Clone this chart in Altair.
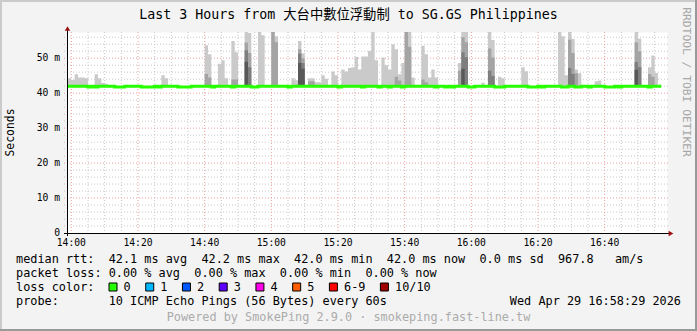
import altair as alt
import pandas as pd

FONT = "DejaVu Sans Mono"
W, H = 600, 201
X0, Y0 = 67, 32  # plot-area origin on the page

# ---------------- data ----------------
x_major = [0, 20, 40, 60, 80, 100, 120, 140, 160]
x_labels = ["14:00", "14:20", "14:40", "15:00", "15:20", "15:40", "16:00", "16:20", "16:40"]
x_minor = [5, 10, 15, 25, 30, 35, 45, 50, 55, 65, 70, 75, 85, 90, 95, 105, 110, 115,
           125, 130, 135, 145, 150, 155, 165, 170, 175]
y_major = [10, 20, 30, 40, 50]
y_label_vals = [0, 10, 20, 30, 40, 50]
y_labels = ["0", "10 m", "20 m", "30 m", "40 m", "50 m"]
y_minor = [2, 4, 6, 8, 12, 14, 16, 18, 22, 24, 26, 28, 32, 34, 36, 38, 42, 44, 46, 48, 52, 54, 56]

# smoke: minutes after 14:00 (sample start) and top of each smoke band (ms)
smoke1_t = [-1, 0, 1, 2, 3, 4, 7, 8, 9, 10, 27, 28, 40, 41, 44, 45, 46, 48, 49, 52, 53,
            56, 57, 60, 61, 66, 67, 68, 69, 71, 72, 73, 74, 75, 76, 78, 79, 81, 82, 83,
            84, 85, 86, 87, 88, 89, 90, 91, 93, 94, 95, 96, 97, 98, 99, 100, 101, 102,
            105, 106, 107, 108, 109, 116, 117, 118, 123, 125, 126, 128, 129, 135, 136,
            146, 147, 148, 149, 150, 151, 152, 157, 158, 169, 170, 173, 174, 175]
smoke1_ms = [44.3, 43.8, 45.4, 44.5, 44.5, 44.3, 45.4, 44.3, 42.9, 42.7, 45.1, 44.3, 53.7,
             51.1, 48.4, 49.4, 44.3, 54.9, 51.7, 57.5, 57.2, 57.5, 56.6, 57.5, 56.3, 44.3,
             43.7, 54.9, 51.4, 44.3, 44.3, 43.1, 43.1, 45.1, 44.1, 46.2, 45.1, 46.8, 46.2,
             47.2, 47.4, 50.4, 46.8, 50.5, 50.5, 52.1, 57.5, 49.4, 50.2, 48.0, 46.8, 54.0,
             52.6, 45.4, 48.6, 57.5, 57.5, 44.5, 53.6, 51.1, 44.5, 46.8, 44.5, 48.6, 57.5,
             57.5, 43.0, 57.5, 55.2, 44.7, 44.3, 47.4, 46.3, 57.5, 56.3, 45.1, 57.5, 55.5,
             46.8, 45.7, 43.4, 43.6, 57.5, 55.6, 47.4, 50.8, 45.8]
smoke2_t = [40, 41, 48, 49, 52, 53, 60, 61, 68, 69, 71, 72, 97, 98, 100, 101, 105, 106,
            116, 117, 118, 125, 126, 149, 150, 151, 169, 170, 173, 174]
smoke2_ms = [45.5, 44.5, 43.9, 43.9, 54.5, 51.5, 57.5, 54.6, 52.6, 50.0, 43.4, 43.4, 44.7,
             43.6, 57.5, 53.3, 43.9, 43.1, 46.4, 56.0, 54.6, 52.8, 50.2, 55.3, 51.5, 45.7,
             54.6, 52.0, 45.5, 44.7]
smoke3_t = [52, 53, 68, 69, 117, 118, 125, 126, 149, 150, 169, 170]
smoke3_ms = [52.3, 47.4, 51.3, 48.6, 51.7, 50.3, 46.4, 44.9, 47.2, 45.5, 48.9, 47.4]
smoke4_t = [52, 68, 69, 117, 169]
smoke4_ms = [49.0, 48.6, 47.0, 47.0, 46.7]
smoke_floor_ms = 41.9

# median rtt line
median_first, median_last = -2, 177
median_ms = 42.0
median_low_ms = 41.8
median_low_t = [5, 7, 13, 14, 15, 21, 22, 23, 24, 26, 32, 33, 34, 35, 42, 48, 54, 55, 65,
                80, 87, 92, 95, 99, 109, 112, 114, 119, 120, 127, 128, 129, 137, 138, 139,
                141, 147, 148, 151, 152, 155, 160, 161, 162, 164, 173]

loss_labels = ["0", "1", "2", "3", "4", "5", "6-9", "10/10"]
loss_colors = ["#26ff00", "#00b8ff", "#0059ff", "#5e00ff", "#ff00ea", "#ff5e00",
               "#ff0000", "#a10000"]

title = "Last 3 Hours from 大台中數位浮動制 to SG.GS Philippines"
row1 = "median rtt:  42.1 ms avg  42.2 ms max  42.0 ms min  42.0 ms now  0.0 ms sd  967.8   am/s"
row2 = "packet loss: 0.00 % avg  0.00 % max  0.00 % min  0.00 % now"
row3 = "loss color:"
row4 = "probe:       10 ICMP Echo Pings (56 Bytes) every 60s"
stamp = "Wed Apr 29 16:58:29 2026"
footer = "Powered by SmokePing 2.9.0 · smokeping.fast-line.tw"
side = "RRDTOOL / TOBI OETIKER"

# ---------------- scales ----------------
xs = alt.Scale(domain=[-1.3, 178.7], nice=False, zero=False)
ys = alt.Scale(domain=[0, 57.5], nice=False, zero=False)
one = pd.DataFrame({"a": [0]})
layers = []

# grid
def hgrid(vals, color):
    return alt.Chart(pd.DataFrame({"v": vals})).mark_rule(
        color=color, strokeDash=[1, 2], strokeWidth=1).encode(
        y=alt.Y("v:Q", scale=ys, axis=None), x=alt.value(-3), x2=alt.value(W + 3))

def vgrid(vals, color, extra=0):
    return alt.Chart(pd.DataFrame({"v": vals})).mark_rule(
        color=color, strokeDash=[1, 2], strokeWidth=1).encode(
        x=alt.X("v:Q", scale=xs, axis=None), y=alt.value(0), y2=alt.value(H + extra))

layers += [hgrid(y_minor, "#c8c8c8"), vgrid(x_minor, "#c8c8c8"),
           hgrid(y_major, "#eea0a0"), vgrid(x_major, "#eea0a0", 3)]

# smoke as stepped areas
all_t = list(range(median_first, median_last + 1))
def smoke_layer(ts, vs, color):
    lookup = dict(zip(ts, vs))
    hi = [lookup.get(t, smoke_floor_ms) for t in all_t]
    hi[-1] = hi[-2]
    df = pd.DataFrame({"t": all_t, "hi": hi, "lo": smoke_floor_ms})
    return alt.Chart(df).mark_area(interpolate="step-after", color=color, opacity=1,
                                   clip=True).encode(
        x=alt.X("t:Q", scale=xs, axis=None),
        y=alt.Y("hi:Q", scale=ys, axis=None), y2="lo:Q")

layers += [smoke_layer(smoke1_t, smoke1_ms, "#cacaca"),
           smoke_layer(smoke2_t, smoke2_ms, "#a4a4a4"),
           smoke_layer(smoke3_t, smoke3_ms, "#7e7e7e"),
           smoke_layer(smoke4_t, smoke4_ms, "#585858")]

# median line
med = [median_low_ms if t in median_low_t else median_ms for t in all_t]
med[-1] = med[-2]
layers.append(alt.Chart(pd.DataFrame({"t": all_t, "m": med})).mark_line(
    interpolate="step-after", color="#26ff00", strokeWidth=3, clip=True,
    strokeCap="butt").encode(
    x=alt.X("t:Q", scale=xs, axis=None), y=alt.Y("m:Q", scale=ys, axis=None)))

# axes lines and arrows
layers.append(alt.Chart(one).mark_rule(color="black", strokeWidth=1).encode(
    x=alt.value(0.5), y=alt.value(-3), y2=alt.value(H + 3)))
layers.append(alt.Chart(one).mark_rule(color="black", strokeWidth=1).encode(
    x=alt.value(-3), x2=alt.value(W + 2), y=alt.value(H + 0.5)))
layers.append(alt.Chart(one).mark_point(shape="triangle-up", filled=True, size=30,
                                        color="#9a1010", opacity=1).encode(
    x=alt.value(0.5), y=alt.value(-3.5)))
layers.append(alt.Chart(one).mark_point(shape="triangle-right", filled=True, size=30,
                                        color="#9a1010", opacity=1).encode(
    x=alt.value(W + 4), y=alt.value(H + 0.5)))

# tick labels
layers.append(alt.Chart(pd.DataFrame({"v": x_major, "s": x_labels})).mark_text(
    font=FONT, fontSize=9.7, color="black", baseline="middle", align="center").encode(
    x=alt.X("v:Q", scale=xs, axis=None), y=alt.value(H + 10), text="s:N"))
layers.append(alt.Chart(pd.DataFrame({"v": y_label_vals, "s": y_labels})).mark_text(
    font=FONT, fontSize=9.7, color="black", baseline="middle", align="right").encode(
    y=alt.Y("v:Q", scale=ys, axis=None), x=alt.value(-7), text="s:N"))

NBSP = "\u00a0"

def text_at(txt, px, py, size, color="black", align="left", angle=0,
            font=FONT):
    kw = dict(text=txt.replace(" ", NBSP), align=align, baseline="middle",
              fontSize=size, font=font, color=color)
    if angle:
        kw["angle"] = angle
    return alt.Chart(one).mark_text(**kw).encode(x=alt.value(px - X0), y=alt.value(py - Y0))

LS = 11.85
CW = LS * 0.602
layers += [
    text_at(title, 348.5, 15, 13.3, align="center",
            font="DejaVu Sans Mono, Noto Sans CJK TC"),
    text_at("Seconds", 10.5, 132.5, 11.4, align="center", angle=270),
    text_at(side, 686, 82, 11.3, color="#a8a8a8", align="center", angle=90),
    text_at(row1, 16, 259, LS),
    text_at(row2, 16, 273, LS),
    text_at(row3, 16, 287, LS),
    text_at(row4, 16, 301, LS),
    text_at(stamp, 681, 301, LS, align="right"),
    text_at(footer, 348.5, 317, LS, color="#ababab", align="center"),
]

# loss colour legend
bx = 109.0
for lab, col in zip(loss_labels, loss_colors):
    layers.append(alt.Chart(one).mark_square(size=64, filled=True, color=col, opacity=1,
                                             stroke="black", strokeWidth=1).encode(
        x=alt.value(bx + 4 - X0), y=alt.value(287 - Y0)))
    lx = bx + 14.6
    layers.append(text_at(lab, lx, 287, LS))
    bx = lx + len(lab) * CW + 15.0

# page border (3D frame)
def brule(x1, x2, y1, y2, color):
    return alt.Chart(one).mark_rule(color=color, strokeWidth=2).encode(
        x=alt.value(x1 - X0), x2=alt.value(x2 - X0), y=alt.value(y1 - Y0), y2=alt.value(y2 - Y0))

layers += [brule(0, 697, 1, 1, "#cbcbcb"), brule(1, 1, 0, 331, "#cbcbcb"),
           brule(0, 697, 330, 330, "#999999"), brule(696, 696, 0, 331, "#999999")]

chart = alt.layer(*layers).properties(
    width=W, height=H,
    autosize=alt.AutoSizeParams(type="none"),
    padding={"left": X0, "top": Y0, "right": 697 - X0 - W, "bottom": 331 - Y0 - H},
).configure(background="#f3f3f3").configure_view(fill="white", stroke="transparent")

chart.save("out.html", embed_options={"renderer": "svg", "actions": False})
